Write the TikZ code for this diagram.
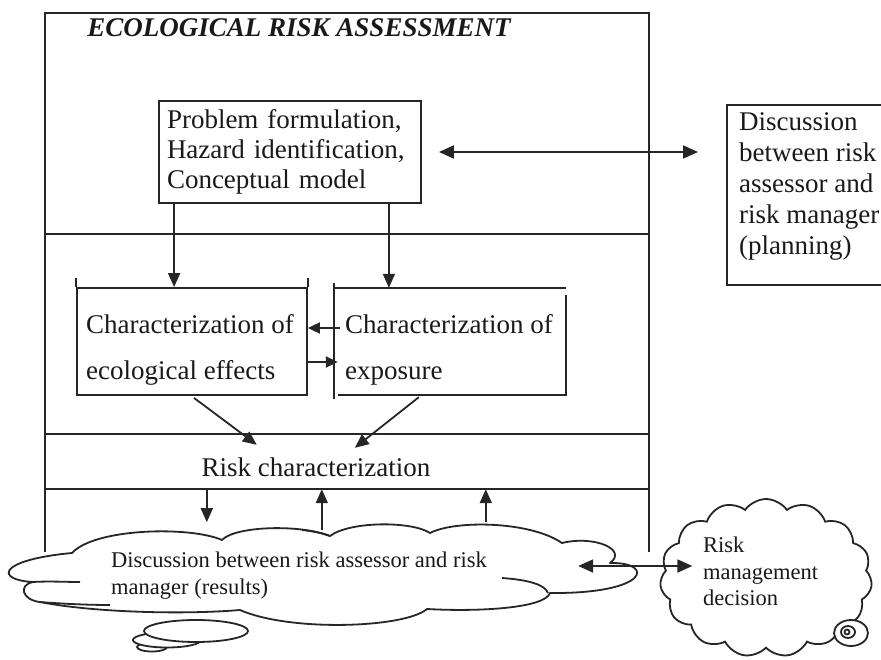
\documentclass[tikz,border=0pt]{standalone}
\usepackage{fontspec}
\setmainfont{Liberation Serif}
\usetikzlibrary{arrows.meta,shapes.symbols,calc}
\begin{document}
\begin{tikzpicture}[x=1pt,y=-1pt,
  ln/.style={draw=black!85,line width=1.8pt},
  arr/.style={ln,-{Triangle[length=14pt,width=12pt]}},
  arrs/.style={ln,-{Triangle[length=12pt,width=11pt]}},
  darr/.style={ln,{Triangle[length=15pt,width=13pt]}-{Triangle[length=15pt,width=13pt]}},
  big/.style={font=\fontsize{27}{30}\selectfont,text=black!90,inner sep=0pt},
  small/.style={font=\fontsize{22.5}{27}\selectfont,text=black!90,inner sep=0pt},
  thought/.style={cloud,ln,fill=white,cloud ignores aspect,inner sep=0pt}
]
\useasboundingbox (0,0) rectangle (881,660);

% outer frame
\node[minimum width=604pt,minimum height=539pt,inner sep=0pt] (frame) at (347,282.5) {};
\draw[ln] (frame.south west) -- (frame.north west) -- (frame.north east) -- (frame.south east);
\coordinate (div1) at (0,234);
\draw[ln] (frame.west |- div1) -- (frame.east |- div1);

\node[big,font=\fontsize{27}{30}\selectfont\bfseries\itshape] (title) at (299,28) {ECOLOGICAL RISK ASSESSMENT};

% problem formulation box
\node[ln,draw,big,align=left,text width=246pt,inner xsep=8pt,minimum height=102pt] (prob) at (290,152)
  {Problem formulation,\\Hazard identification,\\Conceptual model};

% discussion (planning) box
\node[ln,draw,minimum width=175pt,minimum height=180pt,anchor=north west,inner sep=0pt] (disc) at (726,104) {};
\node[big,font=\fontsize{27}{31}\selectfont,align=left,anchor=north west] (disctxt) at (739,112)
  {Discussion\\between risk\\assessor and\\risk manager\\(planning)};

% characterization boxes
\node[ln,draw,minimum width=230pt,minimum height=107pt,inner sep=0pt] (eco) at (192,341.5) {};
\draw[ln] (eco.north west) -- ++(0,-9);
\draw[ln] (eco.north east) -- ++(0,-9);
\node[big,font=\fontsize{27}{46}\selectfont,align=left,anchor=west] (ecotxt) at (86,350)
  {Characterization of\\ecological effects};

\node[minimum width=232pt,minimum height=107pt,inner sep=0pt] (exp) at (450,341.5) {};
\draw[ln] ($(exp.north west)+(0,-5)$) -- ($(exp.south west)+(0,4)$);
\draw[ln] (exp.north west) -- (exp.north east);
\draw[ln] ($(exp.north east)+(0,7)$) -- (exp.south east) -- ($(exp.south west)+(4,0)$);
\node[big,font=\fontsize{27}{46}\selectfont,align=left,anchor=west] (exptxt) at (345,350)
  {Characterization of\\exposure};

% risk characterization band
\node[minimum width=604pt,minimum height=55pt,inner sep=0pt,
  label={[name=rctxt,big,xshift=-31pt,yshift=-5.5pt]center:Risk characterization}] (band) at (347,461.5) {};
\draw[ln] (band.north west) -- (band.north east);
\draw[ln] (band.south west) -- (band.south east);

% arrows in upper part
\coordinate (p1) at ($(prob.south west)+(16,0)$);
\coordinate (p2) at ($(prob.south east)+(-33,0)$);
\draw[arr] (p1) -- (p1 |- eco.north);
\draw[arr] (p2) -- (p2 |- exp.north);
\draw[darr,shorten <=17pt,shorten >=28pt] (prob.east) -- (prob.east -| disc.west);
\draw[arrs] ($(exp.west)+(6,-13.5)$) -- ($(eco.east)+(0,-13.5)$);
\draw[arrs] ($(eco.east)+(0,20.5)$) -- ($(exp.west)+(4,20.5)$);
\draw[arr] ($(eco.south)+(2,2)$) -- ($(band.north west)+(212,11)$);
\draw[arr] ($(exp.south west)+(85,2)$) -- ($(band.north west)+(310,14)$);

% thought bubbles
\draw[ln,fill=white] (152,647) ellipse [x radius=15pt,y radius=4.5pt];
\draw[ln,fill=white] (167,640) ellipse [x radius=34pt,y radius=7.5pt];
\draw[ln,fill=white] (196,631) ellipse [x radius=52pt,y radius=11pt];

% main cloud (hand drawn outline)
\node[minimum width=623pt,minimum height=100pt,inner sep=0pt] (cl) at (321.5,574) {};
\draw[ln,fill=white,line join=round]
  (72,553) .. controls (95,528) and (190,526) .. (222,540)
  .. controls (235,526) and (300,524) .. (330,536)
  .. controls (350,521) and (412,521) .. (430,533)
  .. controls (455,520) and (530,521) .. (562,543)
  .. controls (595,535) and (628,550) .. (610,563)
  .. controls (655,562) and (650,594) .. (550,593)
  .. controls (545,608) and (480,612) .. (427,609)
  .. controls (405,628) and (290,632) .. (240,610)
  .. controls (180,615) and (90,612) .. (40,602)
  .. controls (22,600) and (18,585) .. (33,582)
  .. controls (-5,580) and (-3,560) .. (72,553) -- cycle;
\draw[ln] (33,582) .. controls (50,581) and (65,582) .. (80,582);
\draw[ln] (40,602) .. controls (65,604) and (90,605) .. (110,605);
\draw[ln] (502,578) .. controls (530,580) and (545,585) .. (548,593);
\draw[ln] (330,536) .. controls (322,533) and (312,531) .. (302,530);
\node[small,align=left,anchor=north west] (cltxt) at (111,552)
  {Discussion between risk assessor and risk\\manager (results)};

% risk management cloud
\node[thought,cloud puffs=15,cloud puff arc=110,minimum width=212pt,minimum height=158pt] (rm) at (766,578) {};
\draw[ln,fill=white] (851,633) ellipse [x radius=17pt,y radius=13pt];
\draw[ln] (848,632) ellipse [x radius=7pt,y radius=6pt];
\draw[ln] (847,632) circle [radius=2.5pt];
\node[small,font=\fontsize{22.5}{26.5}\selectfont,align=left,anchor=north west] (rmtxt) at (703,537)
  {Risk\\management\\decision};

% arrows between band and cloud
\draw[arr] ($(band.south west)+(162,0)$) -- ++(0,33);
\draw[arr] ($(band.south west)+(277,41)$) -- ($(band.south west)+(277,0)$);
\draw[arr] ($(band.south west)+(441,33)$) -- ($(band.south west)+(441,0)$);
\draw[darr] ($(cl.east)+(-55,-8)$) -- ($(rm.west)+(32,-12)$);
\end{tikzpicture}
\end{document}
